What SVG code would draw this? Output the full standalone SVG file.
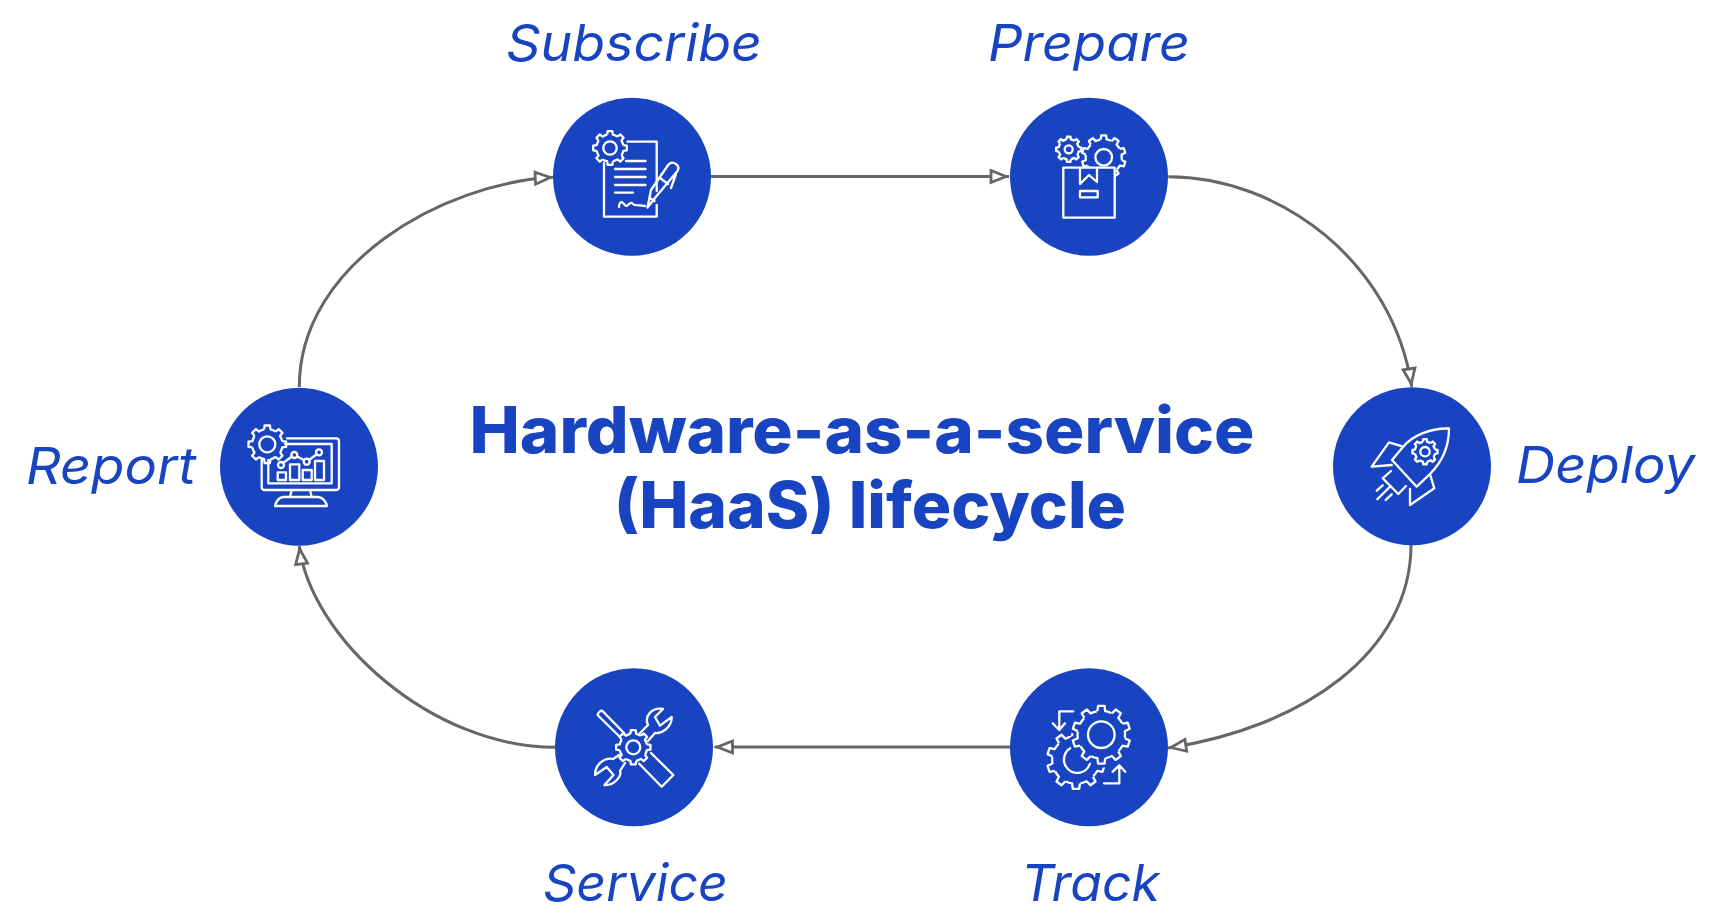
<svg xmlns="http://www.w3.org/2000/svg" width="1719" height="921" viewBox="0 0 1719 921">
<style>
.c{fill:#1944c1}
.i{fill:none;stroke:#fff;stroke-width:2.3;stroke-linejoin:round;stroke-linecap:round}
.v{vector-effect:non-scaling-stroke}
.g{fill:none;stroke:#fff;stroke-width:2.3;stroke-linejoin:round}
.k{fill:none;stroke:#1944c1;stroke-width:8;stroke-linejoin:round}
.l{font-family:Inter,"Liberation Sans",sans-serif;font-style:italic;font-size:51px;fill:#1944c1}
.t{font-family:Inter,"Liberation Sans",sans-serif;font-weight:800;font-size:64px;fill:#1944c1}
.e{fill:none;stroke:#666;stroke-width:3}
</style>
<defs>
<marker id="a" markerUnits="userSpaceOnUse" markerWidth="24" markerHeight="20" refX="21" refY="10" orient="auto"><path d="M3 4L18 10L3 16Z" fill="#fff" stroke="#666" stroke-width="2.800" stroke-linejoin="miter"/></marker>
<path id="g8t" class="v" d="M-1.66-7.83L-1.39-9.9L1.39-9.9L1.66-7.83A8 8 0 0 1 4.36-6.71"/>
<g id="g8"><use href="#g8t"/><use href="#g8t" transform="rotate(45)"/><use href="#g8t" transform="rotate(90)"/><use href="#g8t" transform="rotate(135)"/><use href="#g8t" transform="rotate(180)"/><use href="#g8t" transform="rotate(225)"/><use href="#g8t" transform="rotate(270)"/><use href="#g8t" transform="rotate(315)"/></g>
<path id="g10t" class="v" d="M-1.35-8.1L-1.1-9.95L1.1-9.95L1.35-8.1A8.2 8.2 0 0 1 3.5-7.4"/>
<g id="g10"><use href="#g10t"/><use href="#g10t" transform="rotate(36)"/><use href="#g10t" transform="rotate(72)"/><use href="#g10t" transform="rotate(108)"/><use href="#g10t" transform="rotate(144)"/><use href="#g10t" transform="rotate(180)"/><use href="#g10t" transform="rotate(216)"/><use href="#g10t" transform="rotate(252)"/><use href="#g10t" transform="rotate(288)"/><use href="#g10t" transform="rotate(324)"/></g>
</defs>
<rect width="1719" height="921" fill="#fff"/>
<g id="connectors" class="e">
<path d="M299.300 387C299.300 263.600 443 183 553.300 177.300" marker-end="url(#a)"/>
<path d="M711 176.500H1009" marker-end="url(#a)"/>
<path d="M1168.300 176.700C1280 176.700 1393 262 1411.700 386.700" marker-end="url(#a)"/>
<path d="M1411 545C1411 652 1303 727.700 1168 748" marker-end="url(#a)"/>
<path d="M1010 747H714.500" marker-end="url(#a)"/>
<path d="M555 747.300C431 747.300 310.800 637.600 299.300 546" marker-end="url(#a)"/>
</g>
<g id="title" class="t">
<text x="862" y="453" text-anchor="middle" textLength="785" lengthAdjust="spacingAndGlyphs">Hardware-as-a-service</text>
<text x="870" y="528" text-anchor="middle" textLength="512" lengthAdjust="spacingAndGlyphs">(HaaS) lifecycle</text>
</g>
<g id="subscribe">
<circle class="c" cx="632" cy="176.700" r="79"/>
<use href="#g8" class="g" transform="translate(610 148) scale(1.700)"/>
<circle class="i" cx="610" cy="148" r="6.700"/>
<path class="i" d="M627.500 141.700H656.700V191M656.700 205V216.700H604V163M626 161H645.500M615 169H645.500M615 177H645.500M615 185H645.500M615 192.700H633M619 207C619 203 621 201 623 203C625 205 626 207 628 205C630 203 631 202 633 204C635 206 639 205 645 206"/>
<path class="i" d="M647.500 207.500L651 190L668.500 164.500Q672 161 676 164Q680 167 677.500 171L657 195.500ZM660 178L668 184M676 174L671 188M650 198L654.500 201"/>
<text class="l" x="506" y="61" textLength="256" lengthAdjust="spacingAndGlyphs">Subscribe</text>
</g>
<g id="prepare">
<circle class="c" cx="1089" cy="176.700" r="79"/>
<use href="#g8" class="g" transform="translate(1068.700 149.300) scale(1.270)"/>
<circle class="i" cx="1068.700" cy="149.300" r="4"/>
<use href="#g10" class="g" transform="translate(1103.700 157.300) scale(2.200)"/>
<circle class="i" cx="1103.700" cy="157.300" r="8.300"/>
<path class="i" d="M1063.300 167.700H1114.700V217.700H1063.300Z" style="fill:#1944c1"/>
<path class="i" d="M1080 168V184L1089 175L1097 182V168M1080 191H1097.700V197.300H1080Z"/>
<text class="l" x="988" y="61" textLength="202" lengthAdjust="spacingAndGlyphs">Prepare</text>
</g>
<g id="deploy">
<circle class="c" cx="1412" cy="466.300" r="79"/>
<path class="i" d="M1449 428.500C1430 428 1412 436 1403 447L1392 460L1416.700 486.700L1430 474C1442 462 1449 448 1449 428.500ZM1403.300 446.700L1389 442.300L1371.700 466.700L1391.700 465M1430 474L1434.300 488.300L1410 505V489M1391 471L1382.700 478.300L1398.300 494L1406 486M1376.700 490.700L1382.700 485.300M1377.300 499.300L1390 486.700M1385.700 500L1391.700 494.300"/>
<use href="#g8" class="g" transform="translate(1425 451.700) scale(1.270)"/>
<circle class="i" cx="1425" cy="451.700" r="4.700"/>
<text class="l" x="1516" y="483" textLength="179" lengthAdjust="spacingAndGlyphs">Deploy</text>
</g>
<g id="track">
<circle class="c" cx="1089" cy="747.300" r="79"/>
<use href="#g10" class="g" transform="translate(1076 760) scale(2.900)"/>
<path class="i" d="M1074 746.700A13.300 13.300 0 1 0 1090 763.500"/>
<circle class="c" cx="1101.300" cy="734.700" r="25"/>
<use href="#g10" class="k" transform="translate(1101.300 734.700) scale(2.900)"/>
<use href="#g10" class="g" transform="translate(1101.300 734.700) scale(2.900)"/>
<circle class="i" cx="1101.300" cy="734.700" r="13.300"/>
<path class="i" d="M1073.300 711.300H1059.300V730M1052.700 723.300L1059.300 730L1065 723.300M1104 783.300H1119.300V765.300M1112.700 771.700L1119.300 765.300L1125.300 771.700"/>
<text class="l" x="1021" y="901" textLength="139" lengthAdjust="spacingAndGlyphs">Track</text>
</g>
<g id="service">
<circle class="c" cx="634" cy="747.300" r="79"/>
<path class="i" d="M620 737L598.500 716Q597 714.500 598.500 713L600 711.500Q601.500 710 603 711.500L624.500 733.500M651 753L673.300 775L661.700 786.700L639 763.500M640 733L648 725C644 716 652 707 663 709L655 717L660 725.700L671.700 717C672 727 662 734 655 733L648 741M619 755L613 759C605 757 595 764 595 775L606.700 767L613.500 775L604.500 785C614 786 622 776 620 771L625 763"/>
<use href="#g8" class="g" transform="translate(633.300 747.300) scale(1.730)"/>
<circle class="i" cx="633.300" cy="747.300" r="7"/>
<text class="l" x="543" y="901" textLength="185" lengthAdjust="spacingAndGlyphs">Service</text>
</g>
<g id="report">
<circle class="c" cx="299" cy="466.700" r="79"/>
<path class="i" d="M287 438.300H336Q339 438.300 339 441.300V487Q339 490 336 490H264.700Q261.700 490 261.700 487V460M285 444H331.700V483.300H268.300V460M277.700 472.300h8.300v7.700h-8.300ZM290 464.300h9.300v15.700h-9.300ZM302.700 470h9v10h-9ZM315 461h9v19h-9ZM283 463L292 456.500M297 456.500L304 460M309 460L317 454M291.700 490L290 497M310 490L311.700 497M283 497H318Q325 498 327 506H275Q277 498 283 497Z"/>
<circle class="i" cx="281" cy="465" r="3"/><circle class="i" cx="294.300" cy="455" r="3"/><circle class="i" cx="306.700" cy="461.700" r="3"/><circle class="i" cx="319" cy="452.300" r="3"/>
<use href="#g8" class="g" transform="translate(267.300 444.300) scale(1.900)"/>
<circle class="i" cx="267.300" cy="444.300" r="8"/>
<text class="l" x="26" y="483.500" textLength="170" lengthAdjust="spacingAndGlyphs">Report</text>
</g>
</svg>
